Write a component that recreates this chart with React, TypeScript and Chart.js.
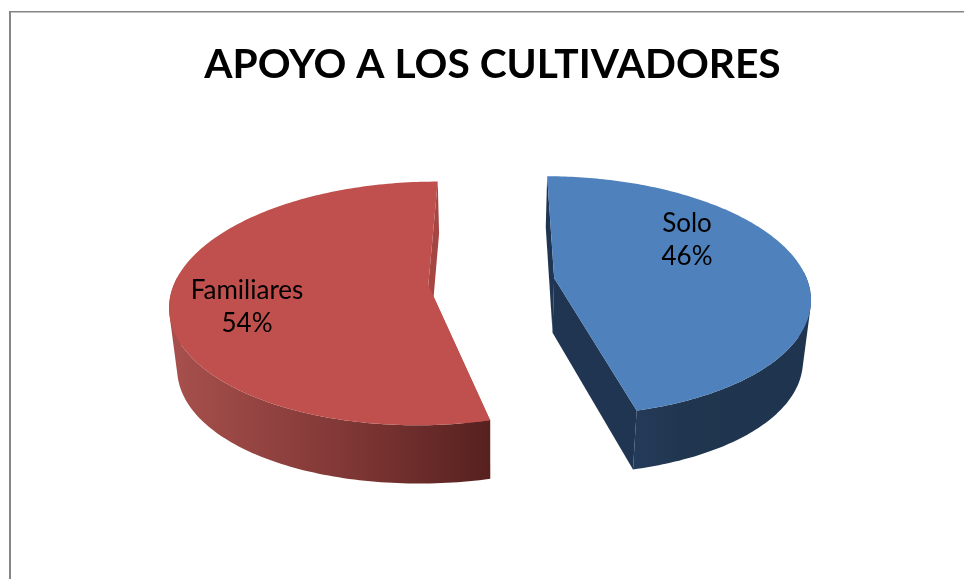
import React, { useEffect, useRef } from "react";
import { Chart, registerables } from "chart.js";

Chart.register(...registerables);

const categories = ["Solo", "Familiares"];
const shares = [46, 54];
const topColors = ["#4F81BD", "#C0504D"];
const titleText = "APOYO A LOS CULTIVADORES";

const CX = 491.5, Y0 = 281.5, RAD = 253.5, SY = 118, K = 0.15, EXPLODE = 0.25, DEPTH = 55;

type Pt = [number, number];

function project(t: number, r: number, mid: number, z: number): Pt {
  const u = r * Math.cos(t) + EXPLODE * Math.cos(mid);
  const v = -r * Math.sin(t) - EXPLODE * Math.sin(mid);
  const w = 1 + K * v;
  const bulge = 5 * r * (1 - v * v);
  return [CX + ((RAD * u) / w) * (1 - 0.025 * z), Y0 - (SY * v) / w + z * (DEPTH - 3.5 * v + bulge)];
}

function poly(ctx: CanvasRenderingContext2D, pts: Pt[], fill: string | CanvasGradient) {
  ctx.beginPath();
  pts.forEach((p, i) => (i ? ctx.lineTo(p[0], p[1]) : ctx.moveTo(p[0], p[1])));
  ctx.closePath();
  ctx.fillStyle = fill;
  ctx.fill();
}

function signedArea(q: Pt[]) {
  let area = 0;
  q.forEach((p, i) => {
    const n = q[(i + 1) % q.length];
    area += p[0] * n[1] - n[0] * p[1];
  });
  return area;
}

const pie3d = {
  id: "pie3d",
  beforeDraw(chart: Chart) {
    const { ctx, width, height } = chart;
    ctx.save();
    ctx.fillStyle = "#868686";
    ctx.fillRect(9, 11, width - 9, 1.5);
    ctx.fillRect(9, 11, 2, height - 11);
    ctx.restore();
  },
  beforeDatasetDraw(chart: Chart) {
    const { ctx } = chart;
    const arcs = chart.getDatasetMeta(0).data as any[];
    const colors = chart.data.datasets[0].backgroundColor as string[];
    const innerWall = ["#1F3552", "#A54643"];
    const order = [1, 0];
    const STEPS = 180;
    for (const idx of order) {
      const a = arcs[idx];
      const s = a.startAngle, e = a.endAngle, mid = (s + e) / 2;
      const rim: number[] = [];
      for (let i = 0; i <= STEPS; i++) rim.push(s + ((e - s) * i) / STEPS);
      // start-side inner face
      poly(ctx, [project(s, 1, mid, 0), project(s, 0, mid, 0), project(s, 0, mid, 1), project(s, 1, mid, 1)], innerWall[idx]);
      // rim wall: the front part only, all quads in one path so no seams show
      let wallFill: CanvasGradient;
      if (idx === 1) {
        wallFill = ctx.createLinearGradient(178, 0, 490, 0);
        wallFill.addColorStop(0, "#A64F4C");
        wallFill.addColorStop(0.55, "#7F3735");
        wallFill.addColorStop(1, "#56211F");
      } else {
        wallFill = ctx.createLinearGradient(636, 0, 800, 0);
        wallFill.addColorStop(0, "#243A59");
        wallFill.addColorStop(0.3, "#20364F");
        wallFill.addColorStop(1, "#1F344E");
      }
      const top = rim.map((t) => project(t, 1, mid, 0));
      const bottom = rim.map((t) => project(t, 1, mid, 1));
      ctx.beginPath();
      for (let i = 0; i < STEPS; i++) {
        if (Math.sin(rim[i]) < -0.05 && Math.sin(rim[i + 1]) < -0.05) continue;
        let q: Pt[] = [top[i], top[i + 1], bottom[i + 1], bottom[i]];
        if (signedArea(q) < 0) q = q.reverse();
        q.forEach((p, j) => (j ? ctx.lineTo(p[0], p[1]) : ctx.moveTo(p[0], p[1])));
        ctx.closePath();
      }
      ctx.fillStyle = wallFill;
      ctx.fill("nonzero");
      // end-side inner face
      poly(ctx, [project(e, 1, mid, 0), project(e, 0, mid, 0), project(e, 0, mid, 1), project(e, 1, mid, 1)], innerWall[idx]);
      // top face
      poly(ctx, [project(s, 0, mid, 0), ...top], colors[idx]);
    }
    return false;
  },
  afterDatasetsDraw(chart: Chart) {
    const { ctx } = chart;
    ctx.save();
    ctx.fillStyle = "#000000";
    ctx.font = "26px Lato";
    ctx.textAlign = "center";
    ctx.textBaseline = "middle";
    const anchors: Pt[] = [[687, 240], [247, 307.5]];
    chart.data.labels!.forEach((label, i) => {
      const [x, y] = anchors[i];
      ctx.fillText(String(label), x, y - 16.5);
      ctx.fillText(`${chart.data.datasets[0].data[i]}%`, x, y + 16.5);
    });
    ctx.restore();
  },
};

export default function App() {
  const ref = useRef<HTMLCanvasElement>(null);
  useEffect(() => {
    const chart = new Chart(ref.current!, {
      type: "pie",
      data: {
        labels: categories,
        datasets: [{ data: shares, backgroundColor: topColors, borderWidth: 0 }],
      },
      options: {
        responsive: false,
        animation: false,
        layout: { padding: { top: 40, left: 21 } },
        rotation: 0.3,
        plugins: {
          legend: { display: false },
          tooltip: { enabled: false },
          title: {
            display: true,
            text: titleText,
            color: "#000000",
            font: { family: "Lato", size: 40.7, weight: "bold" },
            padding: { top: 0, bottom: 0 },
          },
        },
      },
      plugins: [pie3d],
    } as any);
    return () => chart.destroy();
  }, []);
  return (
    <canvas
      ref={ref}
      width={964}
      height={579}
      style={{ position: "absolute", left: 0, top: 0, display: "block" }}
    />
  );
}
